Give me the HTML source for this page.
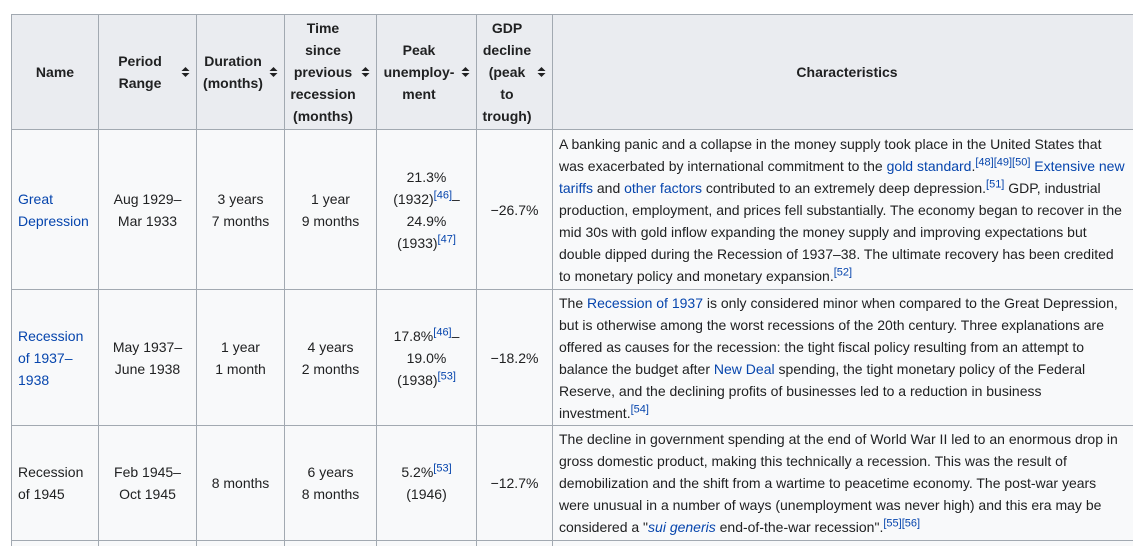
<!DOCTYPE html>
<html style="overflow:hidden;width:1133px;height:546px;"><head><meta charset="utf-8"><style>
html,body{margin:0;width:1133px;height:546px;overflow:hidden;}
body{position:relative;background:#fff;font-family:"Liberation Sans",Arial,sans-serif;font-size:14px;color:#202122;}
.c{position:absolute;box-sizing:border-box;border:1px solid #a2a9b1;display:flex;align-items:center;justify-content:center;text-align:center;line-height:22px;background:#f8f9fa;padding:0 6px;}
.h{background:#eaecf0;font-weight:bold;padding-right:21px;}
.h.ns{padding-right:6px;}
.l{justify-content:flex-start;text-align:left;}
.ch{white-space:nowrap;}
a{color:#0645ad;text-decoration:none;}
sup{font-size:11px;line-height:1;vertical-align:super;}
.s{position:absolute;right:6px;top:50%;margin-top:-6px;width:9px;height:12px;}
</style></head><body>
<div>
<div class="c h ns" style="left:11px;top:14px;width:88px;height:116px;">Name</div>
<div class="c h" style="left:98px;top:14px;width:99px;height:116px;">Period<br>Range<svg class="s" viewBox="0 0 9 12"><path d="M4.5 1L8.5 5H0.5Z M4.5 11L8.5 7H0.5Z" fill="#202122"/></svg></div>
<div class="c h" style="left:196px;top:14px;width:89px;height:116px;">Duration<br>(months)<svg class="s" viewBox="0 0 9 12"><path d="M4.5 1L8.5 5H0.5Z M4.5 11L8.5 7H0.5Z" fill="#202122"/></svg></div>
<div class="c h" style="left:284px;top:14px;width:93px;height:116px;">Time<br>since<br>previous<br>recession<br>(months)<svg class="s" viewBox="0 0 9 12"><path d="M4.5 1L8.5 5H0.5Z M4.5 11L8.5 7H0.5Z" fill="#202122"/></svg></div>
<div class="c h" style="left:376px;top:14px;width:101px;height:116px;">Peak<br>unemploy-<br>ment<svg class="s" viewBox="0 0 9 12"><path d="M4.5 1L8.5 5H0.5Z M4.5 11L8.5 7H0.5Z" fill="#202122"/></svg></div>
<div class="c h" style="left:476px;top:14px;width:77px;height:116px;">GDP<br>decline<br>(peak<br>to<br>trough)<svg class="s" viewBox="0 0 9 12"><path d="M4.5 1L8.5 5H0.5Z M4.5 11L8.5 7H0.5Z" fill="#202122"/></svg></div>
<div class="c h ns" style="left:552px;top:14px;width:590px;height:116px;">Characteristics</div>

<div class="c l" style="left:11px;top:129px;width:88px;height:161px;"><a href="#">Great<br>Depression</a></div>
<div class="c" style="left:98px;top:129px;width:99px;height:161px;">Aug 1929–<br>Mar 1933</div>
<div class="c" style="left:196px;top:129px;width:89px;height:161px;">3 years<br>7 months</div>
<div class="c" style="left:284px;top:129px;width:93px;height:161px;">1 year<br>9 months</div>
<div class="c" style="left:376px;top:129px;width:101px;height:161px;"><span>21.3%<br>(1932)<sup><a href="#">[46]</a></sup>–<br>24.9%<br>(1933)<sup><a href="#">[47]</a></sup></span></div>
<div class="c" style="left:476px;top:129px;width:77px;height:161px;">−26.7%</div>
<div class="c l ch" style="left:552px;top:129px;width:590px;height:161px;"><span>A banking panic and a collapse in the money supply took place in the United States that<br>was exacerbated by international commitment to the <a href="#">gold standard</a>.<sup><a href="#">[48][49][50]</a></sup> <a href="#">Extensive new<br>tariffs</a> and <a href="#">other factors</a> contributed to an extremely deep depression.<sup><a href="#">[51]</a></sup> GDP, industrial<br>production, employment, and prices fell substantially. The economy began to recover in the<br>mid 30s with gold inflow expanding the money supply and improving expectations but<br>double dipped during the Recession of 1937–38. The ultimate recovery has been credited<br>to monetary policy and monetary expansion.<sup><a href="#">[52]</a></sup></span></div>

<div class="c l" style="left:11px;top:289px;width:88px;height:137px;"><a href="#">Recession<br>of 1937–<br>1938</a></div>
<div class="c" style="left:98px;top:289px;width:99px;height:137px;">May 1937–<br>June 1938</div>
<div class="c" style="left:196px;top:289px;width:89px;height:137px;">1 year<br>1 month</div>
<div class="c" style="left:284px;top:289px;width:93px;height:137px;">4 years<br>2 months</div>
<div class="c" style="left:376px;top:289px;width:101px;height:137px;"><span>17.8%<sup><a href="#">[46]</a></sup>–<br>19.0%<br>(1938)<sup><a href="#">[53]</a></sup></span></div>
<div class="c" style="left:476px;top:289px;width:77px;height:137px;">−18.2%</div>
<div class="c l ch" style="left:552px;top:289px;width:590px;height:137px;"><span>The <a href="#">Recession of 1937</a> is only considered minor when compared to the Great Depression,<br>but is otherwise among the worst recessions of the 20th century. Three explanations are<br>offered as causes for the recession: the tight fiscal policy resulting from an attempt to<br>balance the budget after <a href="#">New Deal</a> spending, the tight monetary policy of the Federal<br>Reserve, and the declining profits of businesses led to a reduction in business<br>investment.<sup><a href="#">[54]</a></sup></span></div>

<div class="c l" style="left:11px;top:425px;width:88px;height:116px;">Recession<br>of 1945</div>
<div class="c" style="left:98px;top:425px;width:99px;height:116px;">Feb 1945–<br>Oct 1945</div>
<div class="c" style="left:196px;top:425px;width:89px;height:116px;">8 months</div>
<div class="c" style="left:284px;top:425px;width:93px;height:116px;">6 years<br>8 months</div>
<div class="c" style="left:376px;top:425px;width:101px;height:116px;"><span>5.2%<sup><a href="#">[53]</a></sup><br>(1946)</span></div>
<div class="c" style="left:476px;top:425px;width:77px;height:116px;">−12.7%</div>
<div class="c l ch" style="left:552px;top:425px;width:590px;height:116px;"><span>The decline in government spending at the end of World War II led to an enormous drop in<br>gross domestic product, making this technically a recession. This was the result of<br>demobilization and the shift from a wartime to peacetime economy. The post-war years<br>were unusual in a number of ways (unemployment was never high) and this era may be<br>considered a "<a href="#"><i>sui generis</i></a> end-of-the-war recession".<sup><a href="#">[55][56]</a></sup></span></div>

<div class="c" style="left:11px;top:540px;width:88px;height:6px;border-bottom:none;"></div>
<div class="c" style="left:98px;top:540px;width:99px;height:6px;border-bottom:none;"></div>
<div class="c" style="left:196px;top:540px;width:89px;height:6px;border-bottom:none;"></div>
<div class="c" style="left:284px;top:540px;width:93px;height:6px;border-bottom:none;"></div>
<div class="c" style="left:376px;top:540px;width:101px;height:6px;border-bottom:none;"></div>
<div class="c" style="left:476px;top:540px;width:77px;height:6px;border-bottom:none;"></div>
<div class="c" style="left:552px;top:540px;width:581px;height:6px;border-bottom:none;border-right:none;"></div>
</div>
</body></html>
